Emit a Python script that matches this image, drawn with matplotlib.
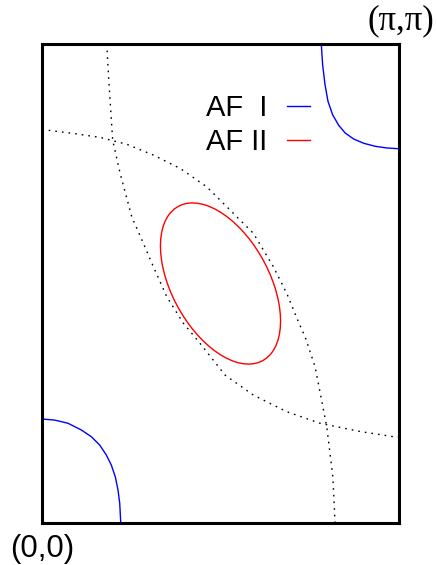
import numpy as np
import matplotlib
matplotlib.use("Agg")
import matplotlib.pyplot as plt
from matplotlib.patches import Ellipse
from matplotlib.lines import Line2D

PI = np.pi

# ---- data (k-space) ----
# AF I pocket near (0,0)
af1_low_kx = [0.0, 0.112, 0.229, 0.346, 0.434, 0.508, 0.566, 0.610, 0.645, 0.669, 0.684, 0.693]
af1_low_ky = [0.682, 0.675, 0.654, 0.610, 0.566, 0.511, 0.446, 0.380, 0.303, 0.216, 0.129, 0.0]
# AF I pocket near (pi,pi) (distances from pi)
af1_high_qx = [0.684, 0.672, 0.651, 0.625, 0.584, 0.531, 0.473, 0.399, 0.311, 0.209, 0.106, 0.0]
af1_high_qy = [0.0, 0.136, 0.267, 0.376, 0.464, 0.533, 0.584, 0.623, 0.651, 0.671, 0.682, 0.687]

# AF II pocket: ellipse centred at (pi/2, pi/2)
af2_center = (PI / 2, PI / 2)
af2_width = 1.28      # along the anti-diagonal
af2_height = 0.772    # along the diagonal
af2_angle = -45

# dotted curve around (pi,pi)
dotA_kx = [0.570, 0.584, 0.599, 0.622, 0.687, 0.790, 0.892, 0.980, 1.098, 1.244,
           1.391, 1.611, 1.860, 2.154, 2.447, 2.800, 3.092, 3.142]
dotA_ky = [3.142, 2.949, 2.774, 2.511, 2.295, 2.008, 1.834, 1.681, 1.484, 1.310,
           1.178, 0.970, 0.839, 0.730, 0.654, 0.600, 0.566, 0.564]
# dotted curve around (0,0)
dotB_kx = [0.0, 0.041, 0.276, 0.511, 0.746, 0.980, 1.215, 1.450, 1.684, 1.860,
           2.036, 2.154, 2.256, 2.315, 2.403, 2.506, 2.560, 2.579]
dotB_ky = [2.577, 2.577, 2.555, 2.529, 2.484, 2.413, 2.326, 2.205, 2.031, 1.900,
           1.681, 1.506, 1.320, 1.222, 1.025, 0.631, 0.300, 0.0]

legend_labels = ["AF  I", "AF II"]
corner_labels = ["(0,0)", "(\u03c0,\u03c0)"]

# ---- figure ----
W, H = 437, 565
fig = plt.figure(figsize=(W / 100, H / 100), dpi=100)
ax = fig.add_axes([42 / W, (H - 523) / H, 357 / W, 479 / H])
ax.set_xlim(0, PI)
ax.set_ylim(0, PI)
ax.set_xticks([])
ax.set_yticks([])
for s in ax.spines.values():
    s.set_linewidth(2.2)
    s.set_color("black")

dot_style = dict(color="black", lw=1.0, linestyle=(0, (1.2, 3.6)))
ax.plot(dotA_kx, dotA_ky, **dot_style)
ax.plot(dotB_kx, dotB_ky, **dot_style)

ax.plot(af1_low_kx, af1_low_ky, color="#0000ff", lw=1.0)
ax.plot(PI - np.array(af1_high_qx), PI - np.array(af1_high_qy), color="#0000ff", lw=1.0)

ell = Ellipse(af2_center, af2_width, af2_height, angle=af2_angle,
              fill=False, edgecolor="#ff0000", lw=1.0)
ax.add_patch(ell)

handles = [Line2D([], [], color="#0000ff", lw=1.0),
           Line2D([], [], color="#ff0000", lw=1.0)]
leg = ax.legend(handles, legend_labels, markerfirst=False, frameon=False,
                loc="upper right", bbox_to_anchor=(310 / W, 1 - 94 / H),
                bbox_transform=fig.transFigure, borderpad=0, borderaxespad=0,
                handlelength=0.8, handletextpad=0.65, labelspacing=0.2,
                prop=dict(family="Liberation Sans", size=21))

fig.text(10 / W, 1 - 557 / H, corner_labels[0], family="Liberation Sans",
         fontsize=22.5, ha="left", va="baseline")
fig.text(434 / W, 1 - 29 / H, corner_labels[1], family="Liberation Serif",
         fontsize=25, ha="right", va="baseline")

fig.savefig("out.png", dpi=100)
